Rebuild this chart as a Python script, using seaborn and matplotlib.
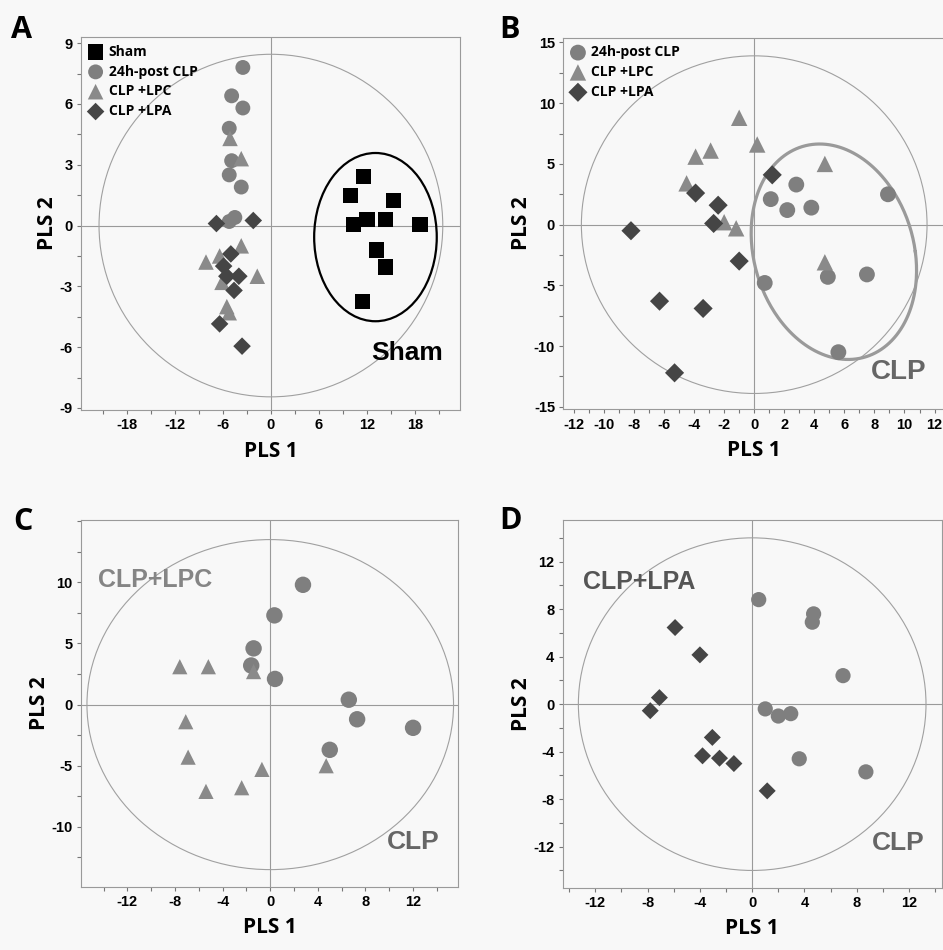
import numpy as np
import pandas as pd
import matplotlib
matplotlib.use("Agg")
import matplotlib.pyplot as plt
import seaborn as sns
from matplotlib.patches import Ellipse
from matplotlib.ticker import MultipleLocator

# ---- panel A: Sham vs CLP groups ----
a_sham_x = [11.6, 9.9, 15.3, 10.3, 12.0, 14.3, 18.6, 13.2, 14.3, 11.4]
a_sham_y = [2.43, 1.47, 1.23, 0.07, 0.28, 0.28, 0.07, -1.21, -2.04, -3.74]
a_clp_x = [-3.5, -4.9, -3.5, -5.2, -4.9, -5.2, -3.7, -5.2, -4.5]
a_clp_y = [7.8, 6.4, 5.8, 4.8, 3.2, 2.5, 1.9, 0.2, 0.4]
a_lpc_x = [-5.1, -3.7, -3.7, -8.1, -6.4, -1.7, -6.1, -5.5, -5.2]
a_lpc_y = [4.3, 3.3, -1.0, -1.8, -1.5, -2.5, -2.8, -4.0, -4.3]
a_lpa_x = [-6.8, -2.2, -5.0, -5.9, -5.5, -4.0, -4.6, -6.4, -3.6]
a_lpa_y = [0.1, 0.25, -1.4, -2.0, -2.5, -2.5, -3.2, -4.85, -5.95]

# ---- panel B ----
b_clp_x = [1.1, 2.8, 2.2, 3.8, 8.9, 0.7, 4.9, 7.5, 5.6]
b_clp_y = [2.1, 3.3, 1.2, 1.4, 2.5, -4.8, -4.3, -4.1, -10.5]
b_lpc_x = [-1.0, 0.2, -3.9, -2.9, -4.5, -2.0, -1.2, 4.7, 4.7]
b_lpc_y = [8.8, 6.6, 5.6, 6.1, 3.4, 0.2, -0.3, 5.0, -3.1]
b_lpa_x = [1.2, -3.9, -2.4, -2.7, -8.2, -1.0, -6.3, -3.4, -5.3]
b_lpa_y = [4.1, 2.6, 1.6, 0.1, -0.5, -3.0, -6.3, -6.9, -12.2]

# ---- panel C ----
c_clp_x = [2.75, 0.35, -1.4, -1.6, 0.4, 6.6, 7.3, 12.0, 5.0]
c_clp_y = [9.8, 7.3, 4.6, 3.2, 2.1, 0.4, -1.2, -1.9, -3.7]
c_lpc_x = [-7.6, -5.2, -1.4, -7.1, -6.9, -0.7, -5.4, -2.4, 4.7]
c_lpc_y = [3.1, 3.1, 2.7, -1.4, -4.3, -5.3, -7.1, -6.8, -5.0]

# ---- panel D ----
d_clp_x = [0.5, 4.7, 4.6, 6.95, 1.0, 2.0, 2.95, 3.6, 8.7]
d_clp_y = [8.8, 7.6, 6.9, 2.4, -0.4, -1.0, -0.8, -4.6, -5.7]
d_lpa_x = [-5.9, -4.0, -7.1, -7.8, -3.05, -3.8, -2.5, -1.4, 1.15]
d_lpa_y = [6.45, 4.15, 0.55, -0.55, -2.8, -4.35, -4.55, -5.0, -7.3]

group_names = ["Sham", "24h-post CLP", "CLP +LPC", "CLP +LPA"]

BG = "#f8f8f8"
GRID = "#9a9a9a"
colors = {"Sham": "#000000", "24h-post CLP": "#7f7f7f",
          "CLP +LPC": "#8a8a8a", "CLP +LPA": "#454545"}
markers = {"Sham": "s", "24h-post CLP": "o", "CLP +LPC": "^", "CLP +LPA": "D"}

TICK_FONT = "Liberation Sans"
LABEL_FONT = "Open Sans"

plt.rcParams["font.family"] = [TICK_FONT, "DejaVu Sans"]
plt.rcParams["font.weight"] = "bold"
plt.rcParams["axes.unicode_minus"] = False

fig = plt.figure(figsize=(9.43, 9.5), dpi=100, facecolor=BG)


def make_df(pairs):
    rows = []
    for name, xs, ys in pairs:
        rows.append(pd.DataFrame({"PLS 1": xs, "PLS 2": ys, "group": name}))
    return pd.concat(rows, ignore_index=True)


def setup_axes(ax, xlim, ylim, xmaj, xmin, ymaj, ymin, t2):
    ax.set_facecolor(BG)
    ax.set_xlim(*xlim)
    ax.set_ylim(*ylim)
    ax.set_xticks(xmaj)
    ax.set_yticks(ymaj)
    ax.xaxis.set_minor_locator(MultipleLocator(xmin))
    ax.yaxis.set_minor_locator(MultipleLocator(ymin))
    ax.axhline(0, color=GRID, lw=0.8, zorder=1)
    ax.axvline(0, color=GRID, lw=0.8, zorder=1)
    ax.add_patch(Ellipse((0, 0), 2 * t2[0], 2 * t2[1], fill=False,
                         ec="#a0a0a0", lw=0.8, zorder=1))
    for sp in ax.spines.values():
        sp.set_color(GRID)
        sp.set_linewidth(0.8)
    ax.tick_params(which="both", direction="out", length=3, width=0.8,
                   color="#777777", labelsize=10.5, pad=3)
    ax.set_xlabel("PLS 1", fontsize=15, fontweight="bold",
                  family=LABEL_FONT, labelpad=6)
    ax.set_ylabel("PLS 2", fontsize=15, fontweight="bold",
                  family=LABEL_FONT, labelpad=1)


def draw_groups(ax, df, sizes):
    for name in group_names:
        sub = df[df["group"] == name]
        if sub.empty:
            continue
        sns.scatterplot(data=sub, x="PLS 1", y="PLS 2", ax=ax,
                        marker=markers[name], color=colors[name],
                        s=sizes[name], edgecolor="none", linewidth=0,
                        label=name, zorder=3)


def add_legend(ax):
    leg = ax.legend(loc="upper left", frameon=False, handletextpad=0.45,
                    labelspacing=0.42, borderaxespad=0.15, handlelength=1.0,
                    borderpad=0.4,
                    prop={"family": LABEL_FONT, "weight": "bold", "size": 10})
    return leg


# ---------------- A ----------------
ax_a = fig.add_axes([0.0859, 0.5684, 0.4019, 0.3926])
df_a = make_df([("Sham", a_sham_x, a_sham_y),
                ("24h-post CLP", a_clp_x, a_clp_y),
                ("CLP +LPC", a_lpc_x, a_lpc_y),
                ("CLP +LPA", a_lpa_x, a_lpa_y)])
setup_axes(ax_a, (-23.7, 23.6), (-9.1, 9.3), np.arange(-18, 19, 6), 3,
           np.arange(-9, 10, 3), 1.5, (21.45, 8.45))
ax_a.add_patch(Ellipse((13.05, -0.57), 15.3, 8.3, fill=False, ec="black",
                       lw=1.6, zorder=2))
draw_groups(ax_a, df_a, {"Sham": 120, "24h-post CLP": 115,
                         "CLP +LPC": 125, "CLP +LPA": 80})
add_legend(ax_a)
ax_a.text(17.0, -6.3, "Sham", fontsize=19, fontweight="bold",
          ha="center", va="center", color="black")

# ---------------- B ----------------
ax_b = fig.add_axes([0.5974, 0.5692, 0.4048, 0.3912])
df_b = make_df([("24h-post CLP", b_clp_x, b_clp_y),
                ("CLP +LPC", b_lpc_x, b_lpc_y),
                ("CLP +LPA", b_lpa_x, b_lpa_y)])
setup_axes(ax_b, (-12.7, 12.7), (-15.2, 15.4), np.arange(-12, 13, 2), 1,
           np.arange(-15, 16, 5), 2.5, (11.5, 13.9))
# tilted CLP confidence ellipse
t = np.linspace(0, 2 * np.pi, 300)
ell_x = 5.3 + 5.42 * np.cos(t) - 0.95 * np.sin(t)
ell_y = -2.23 + 8.87 * np.sin(t)
ax_b.plot(ell_x, ell_y, color="#9a9a9a", lw=2.3, zorder=2)
draw_groups(ax_b, df_b, {"24h-post CLP": 130, "CLP +LPC": 140,
                         "CLP +LPA": 95})
add_legend(ax_b)
ax_b.text(9.64, -12.1, "CLP", fontsize=20, fontweight="bold",
          ha="center", va="center", color="#666666")

# ---------------- C ----------------
ax_c = fig.add_axes([0.0859, 0.0666, 0.4001, 0.386])
df_c = make_df([("24h-post CLP", c_clp_x, c_clp_y),
                ("CLP +LPC", c_lpc_x, c_lpc_y)])
setup_axes(ax_c, (-15.9, 15.8), (-14.9, 15.1), np.arange(-12, 13, 4), 2,
           np.arange(-10, 11, 5), 2.5, (15.4, 13.5))
draw_groups(ax_c, df_c, {"24h-post CLP": 140, "CLP +LPC": 120})
ax_c.get_legend().remove()
ax_c.text(-9.66, 10.2, "CLP+LPC", fontsize=18, fontweight="bold",
          ha="center", va="center", color="#858585")
ax_c.text(12.05, -11.25, "CLP", fontsize=19, fontweight="bold",
          ha="center", va="center", color="#666666")

# ---------------- D ----------------
ax_d = fig.add_axes([0.5967, 0.0656, 0.4019, 0.387])
df_d = make_df([("24h-post CLP", d_clp_x, d_clp_y),
                ("CLP +LPA", d_lpa_x, d_lpa_y)])
setup_axes(ax_d, (-14.5, 14.5), (-15.45, 15.5), np.arange(-12, 13, 4), 2,
           np.arange(-12, 13, 4), 2, (13.3, 14.0))
draw_groups(ax_d, df_d, {"24h-post CLP": 120, "CLP +LPA": 75})
ax_d.get_legend().remove()
ax_d.text(-8.68, 10.3, "CLP+LPA", fontsize=18, fontweight="bold",
          ha="center", va="center", color="#555555")
ax_d.text(11.2, -11.66, "CLP", fontsize=19, fontweight="bold",
          ha="center", va="center", color="#666666")

# panel letters
for lx, ly, letter in [(0.012, 0.968, "A"), (0.529, 0.968, "B"),
                       (0.014, 0.450, "C"), (0.529, 0.452, "D")]:
    fig.text(lx, ly, letter, fontsize=22, fontweight="bold",
             family=LABEL_FONT, ha="left", va="center")

fig.savefig("out.png", dpi=100, facecolor=BG)
